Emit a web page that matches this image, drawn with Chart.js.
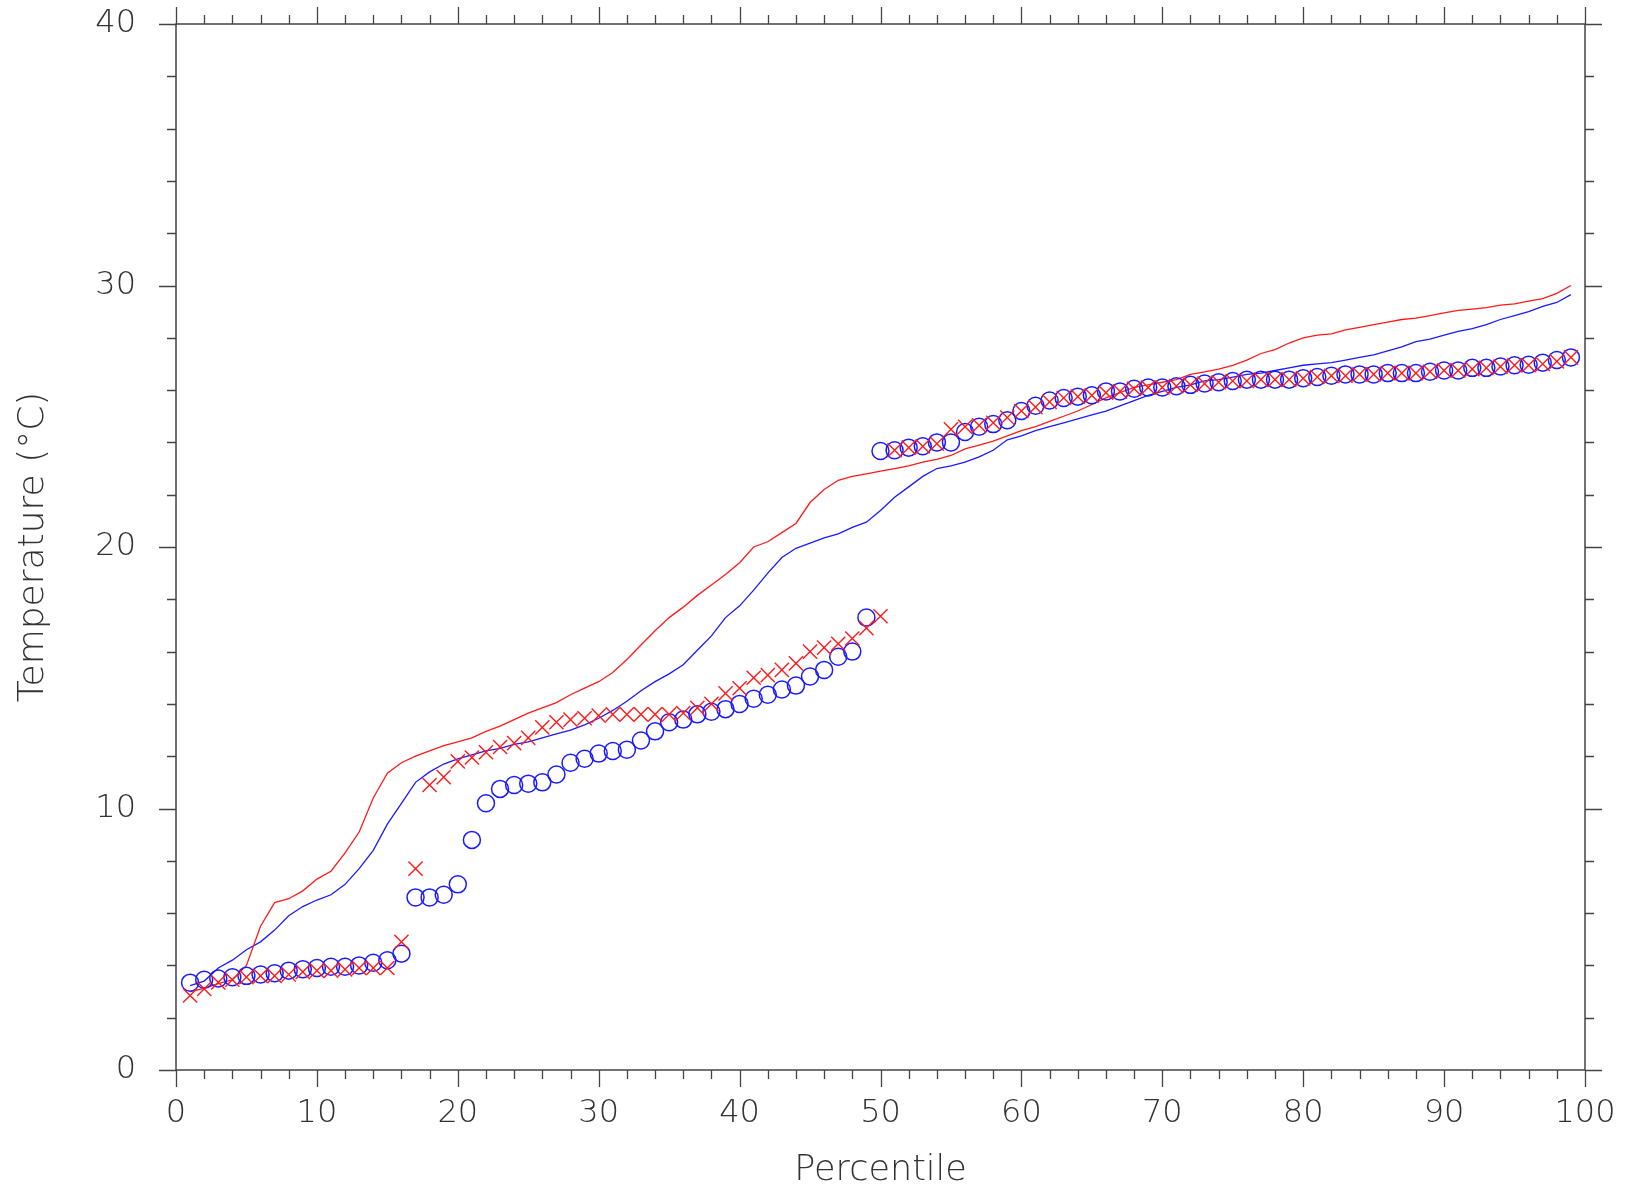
<!DOCTYPE html>
<html>
<head>
<meta charset="utf-8">
<script src="https://cdn.jsdelivr.net/npm/chart.js@4.4.1/dist/chart.umd.min.js"></script>
<style>
  body { margin: 0; background: #fff; }
  canvas { display: block; }
</style>
</head>
<body>
<canvas id="chart" width="1630" height="1192"></canvas>
<script>
const percentile = [1, 2, 3, 4, 5, 6, 7, 8, 9, 10, 11, 12, 13, 14, 15, 16, 17, 18, 19, 20,
  21, 22, 23, 24, 25, 26, 27, 28, 29, 30, 31, 32, 33, 34, 35, 36, 37, 38, 39, 40,
  41, 42, 43, 44, 45, 46, 47, 48, 49, 50, 51, 52, 53, 54, 55, 56, 57, 58, 59, 60,
  61, 62, 63, 64, 65, 66, 67, 68, 69, 70, 71, 72, 73, 74, 75, 76, 77, 78, 79, 80,
  81, 82, 83, 84, 85, 86, 87, 88, 89, 90, 91, 92, 93, 94, 95, 96, 97, 98, 99];

// blue circles
const blueMarks = [3.34, 3.45, 3.5, 3.55, 3.6, 3.65, 3.7, 3.8, 3.85, 3.9,
  3.95, 3.95, 4.0, 4.1, 4.2, 4.45, 6.6, 6.6, 6.7, 7.1,
  8.8, 10.2, 10.75, 10.9, 10.95, 11.0, 11.3, 11.75, 11.9, 12.1,
  12.2, 12.25, 12.6, 12.95, 13.3, 13.4, 13.6, 13.7, 13.8, 14.0,
  14.2, 14.35, 14.55, 14.7, 15.05, 15.3, 15.8, 16.0, 17.3, 23.67,
  23.7, 23.8, 23.85, 24.0, 24.0, 24.4, 24.6, 24.7, 24.85, 25.2,
  25.4, 25.6, 25.7, 25.75, 25.8, 25.95, 25.95, 26.05, 26.1, 26.1,
  26.15, 26.2, 26.25, 26.3, 26.35, 26.4, 26.4, 26.4, 26.4, 26.45,
  26.5, 26.55, 26.6, 26.6, 26.6, 26.65, 26.65, 26.65, 26.7, 26.75,
  26.75, 26.85, 26.85, 26.9, 26.95, 26.97, 27.05, 27.15, 27.25];

// red crosses
const redMarks = [2.85, 3.1, 3.35, 3.45, 3.55, 3.6, 3.6, 3.65, 3.75, 3.8,
  3.8, 3.85, 3.9, 3.9, 3.9, 4.9, 7.7, 10.9, 11.2, 11.8,
  11.95, 12.15, 12.35, 12.5, 12.7, 13.1, 13.3, 13.4, 13.45, 13.55,
  13.6, 13.6, 13.6, 13.6, 13.6, 13.65, 13.85, 14.0, 14.4, 14.6,
  15.0, 15.1, 15.3, 15.55, 16.0, 16.15, 16.3, 16.5, 16.9, 17.35,
  23.7, 23.8, 23.85, 23.95, 24.5, 24.6, 24.65, 24.75, 24.95, 25.2,
  25.35, 25.55, 25.7, 25.75, 25.8, 25.9, 25.95, 26.05, 26.1, 26.1,
  26.15, 26.2, 26.25, 26.3, 26.35, 26.35, 26.4, 26.4, 26.4, 26.45,
  26.5, 26.55, 26.55, 26.6, 26.6, 26.65, 26.65, 26.65, 26.7, 26.75,
  26.75, 26.8, 26.85, 26.9, 26.95, 26.95, 27.0, 27.1, 27.25];

// red line
const redLine = [3.0, 3.12, 3.3, 3.45, 4.0, 5.5, 6.4, 6.55, 6.85, 7.3,
  7.6, 8.3, 9.1, 10.4, 11.35, 11.75, 12.0, 12.2, 12.4, 12.55,
  12.7, 12.95, 13.15, 13.4, 13.65, 13.85, 14.05, 14.35, 14.6, 14.85,
  15.2, 15.7, 16.25, 16.8, 17.3, 17.7, 18.15, 18.55, 18.95, 19.4,
  20.0, 20.2, 20.55, 20.9, 21.7, 22.2, 22.55, 22.7, 22.8, 22.9,
  23.0, 23.1, 23.25, 23.35, 23.5, 23.75, 23.9, 24.05, 24.25, 24.45,
  24.6, 24.8, 25.0, 25.2, 25.45, 25.7, 25.9, 26.1, 26.2, 26.3,
  26.4, 26.6, 26.7, 26.8, 26.95, 27.15, 27.4, 27.55, 27.8, 28.0,
  28.1, 28.15, 28.3, 28.4, 28.5, 28.6, 28.7, 28.75, 28.85, 28.95,
  29.05, 29.1, 29.15, 29.25, 29.3, 29.4, 29.5, 29.7, 30.0];

// blue line
const blueLine = [3.23, 3.4, 3.9, 4.2, 4.6, 4.9, 5.35, 5.9, 6.25, 6.5,
  6.7, 7.1, 7.7, 8.4, 9.4, 10.2, 11.0, 11.4, 11.7, 11.9,
  12.05, 12.2, 12.3, 12.45, 12.55, 12.7, 12.85, 13.0, 13.2, 13.45,
  13.75, 14.1, 14.5, 14.85, 15.15, 15.5, 16.05, 16.6, 17.3, 17.75,
  18.35, 19.0, 19.6, 19.95, 20.15, 20.35, 20.5, 20.75, 20.95, 21.4,
  21.9, 22.3, 22.7, 23.0, 23.1, 23.25, 23.45, 23.7, 24.1, 24.25,
  24.45, 24.6, 24.75, 24.9, 25.05, 25.2, 25.4, 25.6, 25.8, 25.95,
  26.1, 26.2, 26.35, 26.4, 26.5, 26.6, 26.65, 26.75, 26.85, 26.95,
  27.0, 27.05, 27.15, 27.25, 27.35, 27.5, 27.65, 27.85, 27.95, 28.1,
  28.25, 28.35, 28.5, 28.7, 28.85, 29.0, 29.2, 29.35, 29.65];

const xLabels = [0, 10, 20, 30, 40, 50, 60, 70, 80, 90, 100];
const yLabels = [0, 10, 20, 30, 40];

const font = "'DejaVu Sans', sans-serif";
const pts = arr => arr.map((v, i) => ({x: percentile[i], y: v}));

// frame with ticks on all four sides
const frame = {
  id: 'frame',
  afterDatasetsDraw(chart) {
    const {ctx, chartArea: a, scales: {x, y}} = chart;
    ctx.save();
    ctx.strokeStyle = '#444';
    ctx.lineWidth = 1.5;
    ctx.strokeRect(a.left, a.top, a.right - a.left, a.bottom - a.top);
    ctx.lineWidth = 1.3;
    ctx.beginPath();
    for (let v = 0; v <= 100; v += 2) {
      const px = Math.round(x.getPixelForValue(v)) + 0.5;
      const len = v % 10 === 0 ? 17 : 9;
      ctx.moveTo(px, a.bottom); ctx.lineTo(px, a.bottom + len);
      ctx.moveTo(px, a.top); ctx.lineTo(px, a.top - len);
    }
    for (let v = 0; v <= 40; v += 2) {
      const py = Math.round(y.getPixelForValue(v)) + 0.5;
      const len = v % 10 === 0 ? 17 : 9;
      ctx.moveTo(a.left, py); ctx.lineTo(a.left - len, py);
      ctx.moveTo(a.right, py); ctx.lineTo(a.right + len, py);
    }
    ctx.stroke();
    ctx.restore();
  }
};

new Chart(document.getElementById('chart'), {
  type: 'scatter',
  data: {
    datasets: [{
      label: 'crosses',
      data: pts(redMarks),
      showLine: false,
      pointStyle: 'crossRot',
      pointRadius: 10,
      borderWidth: 1.4,
      borderColor: '#ff1a1a',
      backgroundColor: '#ff1a1a'
    }, {
      label: 'circles',
      data: pts(blueMarks),
      showLine: false,
      pointStyle: 'circle',
      pointRadius: 8.5,
      borderWidth: 1.5,
      borderColor: '#1a1aff',
      backgroundColor: 'transparent'
    }, {
      label: 'red line',
      data: pts(redLine),
      showLine: true,
      pointRadius: 0,
      borderWidth: 1.3,
      borderColor: '#ff1a1a',
      backgroundColor: 'transparent'
    }, {
      label: 'blue line',
      data: pts(blueLine),
      showLine: true,
      pointRadius: 0,
      borderWidth: 1.3,
      borderColor: '#1a1aff',
      backgroundColor: 'transparent'
    }]
  },
  options: {
    responsive: false,
    animation: false,
    layout: { padding: { top: 24, right: 45, left: 0, bottom: 0 } },
    plugins: { legend: { display: false }, tooltip: { enabled: false } },
    scales: {
      x: {
        type: 'linear',
        min: 0, max: 100,
        afterBuildTicks: s => { s.ticks = xLabels.map(v => ({value: v})); },
        afterFit: s => { s.height = 122; s.paddingLeft = 0; s.paddingRight = 0; },
        grid: { display: false, drawTicks: false },
        border: { display: false },
        ticks: { padding: 24, color: '#333', font: { family: font, size: 32, weight: '200' }, maxRotation: 0 },
        title: { display: true, text: 'Percentile', color: '#333',
          font: { family: font, size: 35, weight: '200' }, padding: { top: 0, bottom: 0 } }
      },
      y: {
        type: 'linear',
        min: 0, max: 40,
        afterBuildTicks: s => { s.ticks = yLabels.map(v => ({value: v})); },
        afterFit: s => { s.width = 176; s.paddingTop = 0; s.paddingBottom = 0; },
        grid: { display: false, drawTicks: false },
        border: { display: false },
        ticks: { padding: 40, color: '#333', font: { family: font, size: 32, weight: '200' } },
        title: { display: true, text: 'Temperature (°C)', color: '#333',
          font: { family: font, size: 36, weight: '200' }, padding: { top: 12, bottom: 0 } }
      }
    }
  },
  plugins: [frame]
});
</script>
</body>
</html>
